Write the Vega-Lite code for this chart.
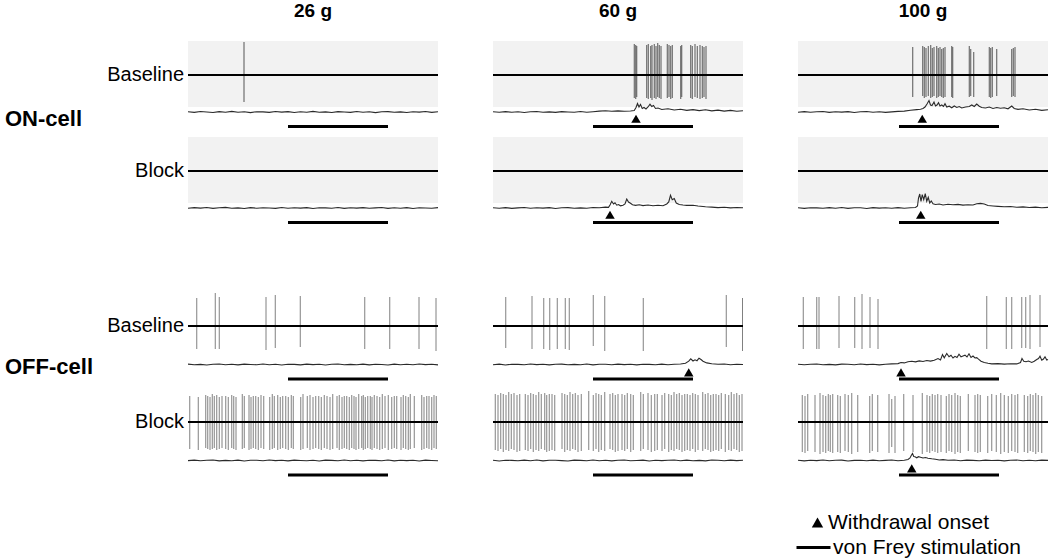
{
"$schema": "https://vega.github.io/schema/vega-lite/v6.json",
"background": "white",
"padding": {"left": 5, "top": 2, "right": 0, "bottom": 0},
"config": {"view": {"stroke": null}, "axis": {"disable": true}, "font": "Liberation Sans"},
"datasets": {
"on": [
{"r":"Baseline","c":26,"k":"h"},{"r":"Baseline","c":60,"k":"h"},{"r":"Baseline","c":100,"k":"h"},
{"r":"Baseline","c":26,"k":"b","t":4,"t2":8},{"r":"Baseline","c":60,"k":"b","t":4,"t2":8},{"r":"Baseline","c":100,"k":"b","t":4.04,"t2":8.04},
{"r":"Baseline","c":60,"k":"o","t":5.72},{"r":"Baseline","c":100,"k":"o","t":4.97},
{"r":"Baseline","c":26,"k":"s","t":2.24,"hi":33,"lo":-27},
{"r":"Baseline","c":60,"k":"s","t":5.65,"hi":31,"lo":-23},{"r":"Baseline","c":60,"k":"s","t":5.71,"hi":30,"lo":-24},{"r":"Baseline","c":60,"k":"s","t":5.75,"hi":29,"lo":-22},{"r":"Baseline","c":60,"k":"s","t":6.15,"hi":30,"lo":-23},{"r":"Baseline","c":60,"k":"s","t":6.21,"hi":31,"lo":-24},{"r":"Baseline","c":60,"k":"s","t":6.31,"hi":29,"lo":-23},{"r":"Baseline","c":60,"k":"s","t":6.36,"hi":30,"lo":-25},{"r":"Baseline","c":60,"k":"s","t":6.45,"hi":31,"lo":-23},{"r":"Baseline","c":60,"k":"s","t":6.52,"hi":29,"lo":-24},{"r":"Baseline","c":60,"k":"s","t":6.59,"hi":32,"lo":-22},{"r":"Baseline","c":60,"k":"s","t":6.65,"hi":30,"lo":-23},{"r":"Baseline","c":60,"k":"s","t":6.72,"hi":29,"lo":-24},{"r":"Baseline","c":60,"k":"s","t":6.97,"hi":31,"lo":-23},{"r":"Baseline","c":60,"k":"s","t":7.04,"hi":30,"lo":-22},{"r":"Baseline","c":60,"k":"s","t":7.11,"hi":29,"lo":-24},{"r":"Baseline","c":60,"k":"s","t":7.17,"hi":30,"lo":-23},{"r":"Baseline","c":60,"k":"s","t":7.51,"hi":29,"lo":-24},{"r":"Baseline","c":60,"k":"s","t":7.55,"hi":30,"lo":-22},{"r":"Baseline","c":60,"k":"s","t":7.91,"hi":30,"lo":-23},{"r":"Baseline","c":60,"k":"s","t":7.97,"hi":29,"lo":-24},{"r":"Baseline","c":60,"k":"s","t":8.08,"hi":31,"lo":-22},{"r":"Baseline","c":60,"k":"s","t":8.17,"hi":29,"lo":-23},{"r":"Baseline","c":60,"k":"s","t":8.28,"hi":30,"lo":-24},{"r":"Baseline","c":60,"k":"s","t":8.37,"hi":29,"lo":-23},{"r":"Baseline","c":60,"k":"s","t":8.44,"hi":28,"lo":-22},{"r":"Baseline","c":60,"k":"s","t":8.52,"hi":29,"lo":-24},
{"r":"Baseline","c":100,"k":"s","t":4.59,"hi":28,"lo":-22},{"r":"Baseline","c":100,"k":"s","t":4.99,"hi":29,"lo":-21},{"r":"Baseline","c":100,"k":"s","t":5.05,"hi":28,"lo":-23},{"r":"Baseline","c":100,"k":"s","t":5.12,"hi":27,"lo":-22},{"r":"Baseline","c":100,"k":"s","t":5.21,"hi":29,"lo":-21},{"r":"Baseline","c":100,"k":"s","t":5.31,"hi":30,"lo":-23},{"r":"Baseline","c":100,"k":"s","t":5.37,"hi":27,"lo":-22},{"r":"Baseline","c":100,"k":"s","t":5.44,"hi":28,"lo":-21},{"r":"Baseline","c":100,"k":"s","t":5.55,"hi":29,"lo":-23},{"r":"Baseline","c":100,"k":"s","t":5.61,"hi":27,"lo":-22},{"r":"Baseline","c":100,"k":"s","t":5.68,"hi":28,"lo":-21},{"r":"Baseline","c":100,"k":"s","t":5.75,"hi":26,"lo":-22},{"r":"Baseline","c":100,"k":"s","t":5.81,"hi":27,"lo":-23},{"r":"Baseline","c":100,"k":"s","t":5.88,"hi":28,"lo":-22},{"r":"Baseline","c":100,"k":"s","t":6.15,"hi":29,"lo":-22},{"r":"Baseline","c":100,"k":"s","t":6.19,"hi":28,"lo":-23},{"r":"Baseline","c":100,"k":"s","t":6.85,"hi":29,"lo":-22},{"r":"Baseline","c":100,"k":"s","t":6.91,"hi":26,"lo":-21},{"r":"Baseline","c":100,"k":"s","t":7.03,"hi":23,"lo":-22},{"r":"Baseline","c":100,"k":"s","t":7.65,"hi":28,"lo":-22},{"r":"Baseline","c":100,"k":"s","t":7.71,"hi":27,"lo":-23},{"r":"Baseline","c":100,"k":"s","t":7.77,"hi":28,"lo":-22},{"r":"Baseline","c":100,"k":"s","t":7.95,"hi":26,"lo":-21},{"r":"Baseline","c":100,"k":"s","t":8.55,"hi":26,"lo":-22},{"r":"Baseline","c":100,"k":"s","t":8.61,"hi":27,"lo":-21},{"r":"Baseline","c":100,"k":"s","t":8.68,"hi":28,"lo":-22},
{"r":"Baseline","c":26,"k":"e","t":0,"v":0.3},{"r":"Baseline","c":26,"k":"e","t":0.25,"v":-0.4},{"r":"Baseline","c":26,"k":"e","t":0.5,"v":0.5},{"r":"Baseline","c":26,"k":"e","t":0.75,"v":0},{"r":"Baseline","c":26,"k":"e","t":1,"v":-0.5},{"r":"Baseline","c":26,"k":"e","t":1.25,"v":0.4},{"r":"Baseline","c":26,"k":"e","t":1.5,"v":-0.2},{"r":"Baseline","c":26,"k":"e","t":1.75,"v":0.6},{"r":"Baseline","c":26,"k":"e","t":2,"v":-0.3},{"r":"Baseline","c":26,"k":"e","t":2.25,"v":0.2},{"r":"Baseline","c":26,"k":"e","t":2.5,"v":-0.6},{"r":"Baseline","c":26,"k":"e","t":2.75,"v":0.3},{"r":"Baseline","c":26,"k":"e","t":3,"v":0.1},{"r":"Baseline","c":26,"k":"e","t":3.25,"v":-0.4},{"r":"Baseline","c":26,"k":"e","t":3.5,"v":0.5},{"r":"Baseline","c":26,"k":"e","t":3.75,"v":-0.1},{"r":"Baseline","c":26,"k":"e","t":4,"v":0.4},{"r":"Baseline","c":26,"k":"e","t":4.25,"v":-0.5},{"r":"Baseline","c":26,"k":"e","t":4.5,"v":0.2},{"r":"Baseline","c":26,"k":"e","t":4.75,"v":-0.3},{"r":"Baseline","c":26,"k":"e","t":5,"v":0.6},{"r":"Baseline","c":26,"k":"e","t":5.25,"v":-0.2},{"r":"Baseline","c":26,"k":"e","t":5.5,"v":0.1},{"r":"Baseline","c":26,"k":"e","t":5.75,"v":-0.5},{"r":"Baseline","c":26,"k":"e","t":6,"v":0.4},{"r":"Baseline","c":26,"k":"e","t":6.25,"v":0},{"r":"Baseline","c":26,"k":"e","t":6.5,"v":-0.4},{"r":"Baseline","c":26,"k":"e","t":6.75,"v":0.5},{"r":"Baseline","c":26,"k":"e","t":7,"v":-0.2},{"r":"Baseline","c":26,"k":"e","t":7.25,"v":0.3},{"r":"Baseline","c":26,"k":"e","t":7.5,"v":-0.6},{"r":"Baseline","c":26,"k":"e","t":7.75,"v":0.2},{"r":"Baseline","c":26,"k":"e","t":8,"v":0.4},{"r":"Baseline","c":26,"k":"e","t":8.25,"v":-0.3},{"r":"Baseline","c":26,"k":"e","t":8.5,"v":0.1},{"r":"Baseline","c":26,"k":"e","t":8.75,"v":-0.5},{"r":"Baseline","c":26,"k":"e","t":9,"v":0.3},{"r":"Baseline","c":26,"k":"e","t":9.25,"v":-0.1},{"r":"Baseline","c":26,"k":"e","t":9.5,"v":0.5},{"r":"Baseline","c":26,"k":"e","t":9.75,"v":-0.4},{"r":"Baseline","c":26,"k":"e","t":10,"v":0.2},
{"r":"Baseline","c":60,"k":"e","t":0,"v":0.2},{"r":"Baseline","c":60,"k":"e","t":0.25,"v":-0.3},{"r":"Baseline","c":60,"k":"e","t":0.5,"v":0.4},{"r":"Baseline","c":60,"k":"e","t":0.75,"v":-0.2},{"r":"Baseline","c":60,"k":"e","t":1,"v":0.3},{"r":"Baseline","c":60,"k":"e","t":1.25,"v":-0.5},{"r":"Baseline","c":60,"k":"e","t":1.5,"v":0.2},{"r":"Baseline","c":60,"k":"e","t":1.75,"v":0.5},{"r":"Baseline","c":60,"k":"e","t":2,"v":-0.3},{"r":"Baseline","c":60,"k":"e","t":2.25,"v":0.1},{"r":"Baseline","c":60,"k":"e","t":2.5,"v":-0.4},{"r":"Baseline","c":60,"k":"e","t":2.75,"v":0.4},{"r":"Baseline","c":60,"k":"e","t":3,"v":0},{"r":"Baseline","c":60,"k":"e","t":3.25,"v":-0.3},{"r":"Baseline","c":60,"k":"e","t":3.5,"v":0.5},{"r":"Baseline","c":60,"k":"e","t":3.75,"v":-0.2},{"r":"Baseline","c":60,"k":"e","t":4,"v":0.3},{"r":"Baseline","c":60,"k":"e","t":4.25,"v":0.9},{"r":"Baseline","c":60,"k":"e","t":4.5,"v":1.3},{"r":"Baseline","c":60,"k":"e","t":4.75,"v":0.8},{"r":"Baseline","c":60,"k":"e","t":5,"v":1.1},{"r":"Baseline","c":60,"k":"e","t":5.25,"v":0.7},{"r":"Baseline","c":60,"k":"e","t":5.5,"v":1.0},{"r":"Baseline","c":60,"k":"e","t":5.65,"v":1.4},{"r":"Baseline","c":60,"k":"e","t":5.72,"v":4.5},{"r":"Baseline","c":60,"k":"e","t":5.78,"v":8.5},{"r":"Baseline","c":60,"k":"e","t":5.84,"v":5},{"r":"Baseline","c":60,"k":"e","t":5.9,"v":7.5},{"r":"Baseline","c":60,"k":"e","t":5.97,"v":3.5},{"r":"Baseline","c":60,"k":"e","t":6.04,"v":4.5},{"r":"Baseline","c":60,"k":"e","t":6.12,"v":3},{"r":"Baseline","c":60,"k":"e","t":6.2,"v":5},{"r":"Baseline","c":60,"k":"e","t":6.28,"v":7.8},{"r":"Baseline","c":60,"k":"e","t":6.35,"v":5.5},{"r":"Baseline","c":60,"k":"e","t":6.42,"v":6.5},{"r":"Baseline","c":60,"k":"e","t":6.5,"v":3.5},{"r":"Baseline","c":60,"k":"e","t":6.6,"v":4},{"r":"Baseline","c":60,"k":"e","t":6.75,"v":2.5},{"r":"Baseline","c":60,"k":"e","t":7,"v":3.2},{"r":"Baseline","c":60,"k":"e","t":7.25,"v":2},{"r":"Baseline","c":60,"k":"e","t":7.5,"v":2.8},{"r":"Baseline","c":60,"k":"e","t":7.75,"v":1.6},{"r":"Baseline","c":60,"k":"e","t":8,"v":2.4},{"r":"Baseline","c":60,"k":"e","t":8.25,"v":1.4},{"r":"Baseline","c":60,"k":"e","t":8.5,"v":2.2},{"r":"Baseline","c":60,"k":"e","t":8.75,"v":1.1},{"r":"Baseline","c":60,"k":"e","t":9,"v":1.9},{"r":"Baseline","c":60,"k":"e","t":9.25,"v":0.9},{"r":"Baseline","c":60,"k":"e","t":9.5,"v":1.6},{"r":"Baseline","c":60,"k":"e","t":9.75,"v":0.7},{"r":"Baseline","c":60,"k":"e","t":10,"v":1.3},
{"r":"Baseline","c":100,"k":"e","t":0,"v":-0.2},{"r":"Baseline","c":100,"k":"e","t":0.25,"v":0.4},{"r":"Baseline","c":100,"k":"e","t":0.5,"v":-0.3},{"r":"Baseline","c":100,"k":"e","t":0.75,"v":0.2},{"r":"Baseline","c":100,"k":"e","t":1,"v":0.5},{"r":"Baseline","c":100,"k":"e","t":1.25,"v":-0.4},{"r":"Baseline","c":100,"k":"e","t":1.5,"v":0.3},{"r":"Baseline","c":100,"k":"e","t":1.75,"v":-0.1},{"r":"Baseline","c":100,"k":"e","t":2,"v":0.4},{"r":"Baseline","c":100,"k":"e","t":2.25,"v":-0.5},{"r":"Baseline","c":100,"k":"e","t":2.5,"v":0.2},{"r":"Baseline","c":100,"k":"e","t":2.75,"v":0.5},{"r":"Baseline","c":100,"k":"e","t":3,"v":-0.2},{"r":"Baseline","c":100,"k":"e","t":3.25,"v":0.3},{"r":"Baseline","c":100,"k":"e","t":3.5,"v":-0.4},{"r":"Baseline","c":100,"k":"e","t":3.75,"v":0.1},{"r":"Baseline","c":100,"k":"e","t":4,"v":0.6},{"r":"Baseline","c":100,"k":"e","t":4.25,"v":0.9},{"r":"Baseline","c":100,"k":"e","t":4.5,"v":1.8},{"r":"Baseline","c":100,"k":"e","t":4.75,"v":2.4},{"r":"Baseline","c":100,"k":"e","t":4.9,"v":2.8},{"r":"Baseline","c":100,"k":"e","t":5.0,"v":3.5},{"r":"Baseline","c":100,"k":"e","t":5.08,"v":5},{"r":"Baseline","c":100,"k":"e","t":5.16,"v":8},{"r":"Baseline","c":100,"k":"e","t":5.24,"v":11.5},{"r":"Baseline","c":100,"k":"e","t":5.3,"v":7},{"r":"Baseline","c":100,"k":"e","t":5.36,"v":6.5},{"r":"Baseline","c":100,"k":"e","t":5.44,"v":10},{"r":"Baseline","c":100,"k":"e","t":5.5,"v":6},{"r":"Baseline","c":100,"k":"e","t":5.56,"v":7},{"r":"Baseline","c":100,"k":"e","t":5.62,"v":9.3},{"r":"Baseline","c":100,"k":"e","t":5.68,"v":6},{"r":"Baseline","c":100,"k":"e","t":5.75,"v":7},{"r":"Baseline","c":100,"k":"e","t":5.82,"v":5.5},{"r":"Baseline","c":100,"k":"e","t":5.88,"v":8.3},{"r":"Baseline","c":100,"k":"e","t":5.95,"v":5},{"r":"Baseline","c":100,"k":"e","t":6.05,"v":5.8},{"r":"Baseline","c":100,"k":"e","t":6.15,"v":4.2},{"r":"Baseline","c":100,"k":"e","t":6.25,"v":6},{"r":"Baseline","c":100,"k":"e","t":6.35,"v":4.5},{"r":"Baseline","c":100,"k":"e","t":6.45,"v":5.5},{"r":"Baseline","c":100,"k":"e","t":6.55,"v":4},{"r":"Baseline","c":100,"k":"e","t":6.7,"v":5},{"r":"Baseline","c":100,"k":"e","t":6.85,"v":5.5},{"r":"Baseline","c":100,"k":"e","t":6.95,"v":7},{"r":"Baseline","c":100,"k":"e","t":7.05,"v":5.5},{"r":"Baseline","c":100,"k":"e","t":7.15,"v":8},{"r":"Baseline","c":100,"k":"e","t":7.25,"v":5.8},{"r":"Baseline","c":100,"k":"e","t":7.35,"v":4.5},{"r":"Baseline","c":100,"k":"e","t":7.5,"v":4},{"r":"Baseline","c":100,"k":"e","t":7.65,"v":5},{"r":"Baseline","c":100,"k":"e","t":7.8,"v":3.5},{"r":"Baseline","c":100,"k":"e","t":7.95,"v":4.5},{"r":"Baseline","c":100,"k":"e","t":8.1,"v":3.8},{"r":"Baseline","c":100,"k":"e","t":8.25,"v":4.3},{"r":"Baseline","c":100,"k":"e","t":8.4,"v":3.2},{"r":"Baseline","c":100,"k":"e","t":8.55,"v":6},{"r":"Baseline","c":100,"k":"e","t":8.65,"v":3.5},{"r":"Baseline","c":100,"k":"e","t":8.8,"v":2.6},{"r":"Baseline","c":100,"k":"e","t":9,"v":3.2},{"r":"Baseline","c":100,"k":"e","t":9.25,"v":2},{"r":"Baseline","c":100,"k":"e","t":9.5,"v":2.7},{"r":"Baseline","c":100,"k":"e","t":9.75,"v":1.6},{"r":"Baseline","c":100,"k":"e","t":10,"v":2.2},
{"r":"Block","c":26,"k":"h"},{"r":"Block","c":60,"k":"h"},{"r":"Block","c":100,"k":"h"},
{"r":"Block","c":26,"k":"b","t":4,"t2":8},{"r":"Block","c":60,"k":"b","t":4,"t2":8},{"r":"Block","c":100,"k":"b","t":4.04,"t2":8.04},
{"r":"Block","c":60,"k":"o","t":4.68},{"r":"Block","c":100,"k":"o","t":4.91},
{"r":"Block","c":26,"k":"e","t":0,"v":-0.3},{"r":"Block","c":26,"k":"e","t":0.25,"v":0.4},{"r":"Block","c":26,"k":"e","t":0.5,"v":-0.1},{"r":"Block","c":26,"k":"e","t":0.75,"v":0.5},{"r":"Block","c":26,"k":"e","t":1,"v":-0.4},{"r":"Block","c":26,"k":"e","t":1.25,"v":0.2},{"r":"Block","c":26,"k":"e","t":1.5,"v":0.6},{"r":"Block","c":26,"k":"e","t":1.75,"v":-0.3},{"r":"Block","c":26,"k":"e","t":2,"v":0.1},{"r":"Block","c":26,"k":"e","t":2.25,"v":-0.5},{"r":"Block","c":26,"k":"e","t":2.5,"v":0.4},{"r":"Block","c":26,"k":"e","t":2.75,"v":-0.2},{"r":"Block","c":26,"k":"e","t":3,"v":0.3},{"r":"Block","c":26,"k":"e","t":3.25,"v":0},{"r":"Block","c":26,"k":"e","t":3.5,"v":-0.4},{"r":"Block","c":26,"k":"e","t":3.75,"v":0.5},{"r":"Block","c":26,"k":"e","t":4,"v":-0.3},{"r":"Block","c":26,"k":"e","t":4.25,"v":0.2},{"r":"Block","c":26,"k":"e","t":4.5,"v":-0.1},{"r":"Block","c":26,"k":"e","t":4.75,"v":0.4},{"r":"Block","c":26,"k":"e","t":5,"v":-0.5},{"r":"Block","c":26,"k":"e","t":5.25,"v":0.3},{"r":"Block","c":26,"k":"e","t":5.5,"v":0.1},{"r":"Block","c":26,"k":"e","t":5.75,"v":-0.2},{"r":"Block","c":26,"k":"e","t":6,"v":0.5},{"r":"Block","c":26,"k":"e","t":6.25,"v":-0.4},{"r":"Block","c":26,"k":"e","t":6.5,"v":0.2},{"r":"Block","c":26,"k":"e","t":6.75,"v":-0.1},{"r":"Block","c":26,"k":"e","t":7,"v":0.4},{"r":"Block","c":26,"k":"e","t":7.25,"v":-0.3},{"r":"Block","c":26,"k":"e","t":7.5,"v":0.1},{"r":"Block","c":26,"k":"e","t":7.75,"v":0.5},{"r":"Block","c":26,"k":"e","t":8,"v":-0.4},{"r":"Block","c":26,"k":"e","t":8.25,"v":0.2},{"r":"Block","c":26,"k":"e","t":8.5,"v":-0.2},{"r":"Block","c":26,"k":"e","t":8.75,"v":0.4},{"r":"Block","c":26,"k":"e","t":9,"v":-0.5},{"r":"Block","c":26,"k":"e","t":9.25,"v":0.3},{"r":"Block","c":26,"k":"e","t":9.5,"v":0},{"r":"Block","c":26,"k":"e","t":9.75,"v":-0.3},{"r":"Block","c":26,"k":"e","t":10,"v":0.4},
{"r":"Block","c":60,"k":"e","t":0,"v":0.3},{"r":"Block","c":60,"k":"e","t":0.25,"v":-0.2},{"r":"Block","c":60,"k":"e","t":0.5,"v":0.4},{"r":"Block","c":60,"k":"e","t":0.75,"v":-0.4},{"r":"Block","c":60,"k":"e","t":1,"v":0.1},{"r":"Block","c":60,"k":"e","t":1.25,"v":0.5},{"r":"Block","c":60,"k":"e","t":1.5,"v":-0.3},{"r":"Block","c":60,"k":"e","t":1.75,"v":0.2},{"r":"Block","c":60,"k":"e","t":2,"v":-0.1},{"r":"Block","c":60,"k":"e","t":2.25,"v":0.4},{"r":"Block","c":60,"k":"e","t":2.5,"v":-0.5},{"r":"Block","c":60,"k":"e","t":2.75,"v":0.2},{"r":"Block","c":60,"k":"e","t":3,"v":0.4},{"r":"Block","c":60,"k":"e","t":3.25,"v":-0.3},{"r":"Block","c":60,"k":"e","t":3.5,"v":0.1},{"r":"Block","c":60,"k":"e","t":3.75,"v":-0.2},{"r":"Block","c":60,"k":"e","t":4,"v":0.5},{"r":"Block","c":60,"k":"e","t":4.25,"v":0.3},{"r":"Block","c":60,"k":"e","t":4.5,"v":0.9},{"r":"Block","c":60,"k":"e","t":4.62,"v":0.6},{"r":"Block","c":60,"k":"e","t":4.68,"v":3},{"r":"Block","c":60,"k":"e","t":4.75,"v":6.7},{"r":"Block","c":60,"k":"e","t":4.82,"v":4},{"r":"Block","c":60,"k":"e","t":4.88,"v":5.2},{"r":"Block","c":60,"k":"e","t":4.95,"v":2.8},{"r":"Block","c":60,"k":"e","t":5.02,"v":3.5},{"r":"Block","c":60,"k":"e","t":5.1,"v":2.2},{"r":"Block","c":60,"k":"e","t":5.2,"v":2.8},{"r":"Block","c":60,"k":"e","t":5.28,"v":4},{"r":"Block","c":60,"k":"e","t":5.35,"v":9},{"r":"Block","c":60,"k":"e","t":5.42,"v":6},{"r":"Block","c":60,"k":"e","t":5.5,"v":4.7},{"r":"Block","c":60,"k":"e","t":5.58,"v":3.2},{"r":"Block","c":60,"k":"e","t":5.7,"v":2.6},{"r":"Block","c":60,"k":"e","t":5.85,"v":3.3},{"r":"Block","c":60,"k":"e","t":6,"v":2.4},{"r":"Block","c":60,"k":"e","t":6.2,"v":3},{"r":"Block","c":60,"k":"e","t":6.4,"v":2.2},{"r":"Block","c":60,"k":"e","t":6.6,"v":2.8},{"r":"Block","c":60,"k":"e","t":6.8,"v":2.3},{"r":"Block","c":60,"k":"e","t":6.95,"v":4},{"r":"Block","c":60,"k":"e","t":7.03,"v":6},{"r":"Block","c":60,"k":"e","t":7.1,"v":12.7},{"r":"Block","c":60,"k":"e","t":7.17,"v":8.3},{"r":"Block","c":60,"k":"e","t":7.25,"v":9.5},{"r":"Block","c":60,"k":"e","t":7.33,"v":5},{"r":"Block","c":60,"k":"e","t":7.45,"v":3.5},{"r":"Block","c":60,"k":"e","t":7.6,"v":3},{"r":"Block","c":60,"k":"e","t":7.75,"v":2.6},{"r":"Block","c":60,"k":"e","t":8,"v":2.7},{"r":"Block","c":60,"k":"e","t":8.2,"v":2},{"r":"Block","c":60,"k":"e","t":8.5,"v":1.3},{"r":"Block","c":60,"k":"e","t":8.75,"v":0.9},{"r":"Block","c":60,"k":"e","t":9,"v":0.4},{"r":"Block","c":60,"k":"e","t":9.25,"v":0.7},{"r":"Block","c":60,"k":"e","t":9.5,"v":0.1},{"r":"Block","c":60,"k":"e","t":9.75,"v":0.5},{"r":"Block","c":60,"k":"e","t":10,"v":0.2},
{"r":"Block","c":100,"k":"e","t":0,"v":0.2},{"r":"Block","c":100,"k":"e","t":0.25,"v":-0.4},{"r":"Block","c":100,"k":"e","t":0.5,"v":0.3},{"r":"Block","c":100,"k":"e","t":0.75,"v":0.1},{"r":"Block","c":100,"k":"e","t":1,"v":-0.3},{"r":"Block","c":100,"k":"e","t":1.25,"v":0.4},{"r":"Block","c":100,"k":"e","t":1.5,"v":-0.2},{"r":"Block","c":100,"k":"e","t":1.75,"v":0.5},{"r":"Block","c":100,"k":"e","t":2,"v":-0.4},{"r":"Block","c":100,"k":"e","t":2.25,"v":0.2},{"r":"Block","c":100,"k":"e","t":2.5,"v":0.3},{"r":"Block","c":100,"k":"e","t":2.75,"v":-0.5},{"r":"Block","c":100,"k":"e","t":3,"v":0.4},{"r":"Block","c":100,"k":"e","t":3.25,"v":-0.1},{"r":"Block","c":100,"k":"e","t":3.5,"v":0.2},{"r":"Block","c":100,"k":"e","t":3.75,"v":-0.3},{"r":"Block","c":100,"k":"e","t":4,"v":0.4},{"r":"Block","c":100,"k":"e","t":4.25,"v":-0.2},{"r":"Block","c":100,"k":"e","t":4.5,"v":0.3},{"r":"Block","c":100,"k":"e","t":4.7,"v":0.5},{"r":"Block","c":100,"k":"e","t":4.78,"v":2},{"r":"Block","c":100,"k":"e","t":4.82,"v":10},{"r":"Block","c":100,"k":"e","t":4.87,"v":14},{"r":"Block","c":100,"k":"e","t":4.92,"v":6.7},{"r":"Block","c":100,"k":"e","t":4.97,"v":13.3},{"r":"Block","c":100,"k":"e","t":5.03,"v":8.3},{"r":"Block","c":100,"k":"e","t":5.09,"v":14.3},{"r":"Block","c":100,"k":"e","t":5.15,"v":6.7},{"r":"Block","c":100,"k":"e","t":5.21,"v":10.7},{"r":"Block","c":100,"k":"e","t":5.27,"v":5},{"r":"Block","c":100,"k":"e","t":5.33,"v":7},{"r":"Block","c":100,"k":"e","t":5.4,"v":4.2},{"r":"Block","c":100,"k":"e","t":5.5,"v":3.5},{"r":"Block","c":100,"k":"e","t":5.65,"v":4},{"r":"Block","c":100,"k":"e","t":5.8,"v":3},{"r":"Block","c":100,"k":"e","t":6,"v":3.8},{"r":"Block","c":100,"k":"e","t":6.2,"v":3.2},{"r":"Block","c":100,"k":"e","t":6.4,"v":3.6},{"r":"Block","c":100,"k":"e","t":6.6,"v":2.9},{"r":"Block","c":100,"k":"e","t":6.8,"v":3.3},{"r":"Block","c":100,"k":"e","t":7,"v":3},{"r":"Block","c":100,"k":"e","t":7.15,"v":4.3},{"r":"Block","c":100,"k":"e","t":7.3,"v":4.6},{"r":"Block","c":100,"k":"e","t":7.45,"v":4},{"r":"Block","c":100,"k":"e","t":7.6,"v":2.5},{"r":"Block","c":100,"k":"e","t":7.8,"v":2},{"r":"Block","c":100,"k":"e","t":8,"v":1.6},{"r":"Block","c":100,"k":"e","t":8.25,"v":1.2},{"r":"Block","c":100,"k":"e","t":8.5,"v":1.5},{"r":"Block","c":100,"k":"e","t":8.75,"v":0.8},{"r":"Block","c":100,"k":"e","t":9,"v":1.1},{"r":"Block","c":100,"k":"e","t":9.25,"v":0.5},{"r":"Block","c":100,"k":"e","t":9.5,"v":0.9},{"r":"Block","c":100,"k":"e","t":9.75,"v":0.3},{"r":"Block","c":100,"k":"e","t":10,"v":0.6}
],
"off": [
{"r":"Baseline","c":26,"k":"h"},{"r":"Baseline","c":60,"k":"h"},{"r":"Baseline","c":100,"k":"h"},
{"r":"Baseline","c":26,"k":"b","t":4,"t2":8},{"r":"Baseline","c":60,"k":"b","t":4,"t2":8},{"r":"Baseline","c":100,"k":"b","t":4.04,"t2":8.04},
{"r":"Baseline","c":60,"k":"o","t":7.83},{"r":"Baseline","c":100,"k":"o","t":4.12},
{"r":"Baseline","c":26,"k":"s","t":0.35,"hi":28,"lo":-23},{"r":"Baseline","c":26,"k":"s","t":1.09,"hi":33,"lo":-23},{"r":"Baseline","c":26,"k":"s","t":1.25,"hi":29,"lo":-23},{"r":"Baseline","c":26,"k":"s","t":3.12,"hi":29,"lo":-24},{"r":"Baseline","c":26,"k":"s","t":3.49,"hi":31,"lo":-22},{"r":"Baseline","c":26,"k":"s","t":4.49,"hi":30,"lo":-21},{"r":"Baseline","c":26,"k":"s","t":7.07,"hi":29,"lo":-23},{"r":"Baseline","c":26,"k":"s","t":8.07,"hi":29,"lo":-23},{"r":"Baseline","c":26,"k":"s","t":9.24,"hi":29,"lo":-23},{"r":"Baseline","c":26,"k":"s","t":9.92,"hi":28,"lo":-25},
{"r":"Baseline","c":60,"k":"s","t":0.51,"hi":29,"lo":-22},{"r":"Baseline","c":60,"k":"s","t":1.56,"hi":30,"lo":-23},{"r":"Baseline","c":60,"k":"s","t":2.03,"hi":28,"lo":-23},{"r":"Baseline","c":60,"k":"s","t":2.27,"hi":28,"lo":-24},{"r":"Baseline","c":60,"k":"s","t":2.57,"hi":28,"lo":-23},{"r":"Baseline","c":60,"k":"s","t":2.89,"hi":28,"lo":-23},{"r":"Baseline","c":60,"k":"s","t":3.05,"hi":28,"lo":-24},{"r":"Baseline","c":60,"k":"s","t":4.01,"hi":31,"lo":-20},{"r":"Baseline","c":60,"k":"s","t":4.47,"hi":30,"lo":-25},{"r":"Baseline","c":60,"k":"s","t":6.01,"hi":28,"lo":-25},{"r":"Baseline","c":60,"k":"s","t":9.33,"hi":31,"lo":-21},{"r":"Baseline","c":60,"k":"s","t":9.98,"hi":28,"lo":-25},
{"r":"Baseline","c":100,"k":"s","t":0.21,"hi":29,"lo":-23},{"r":"Baseline","c":100,"k":"s","t":0.75,"hi":29,"lo":-23},{"r":"Baseline","c":100,"k":"s","t":0.84,"hi":29,"lo":-23},{"r":"Baseline","c":100,"k":"s","t":1.64,"hi":30,"lo":-22},{"r":"Baseline","c":100,"k":"s","t":2.27,"hi":29,"lo":-22},{"r":"Baseline","c":100,"k":"s","t":2.56,"hi":32,"lo":-23},{"r":"Baseline","c":100,"k":"s","t":2.88,"hi":29,"lo":-22},{"r":"Baseline","c":100,"k":"s","t":3.2,"hi":27,"lo":-23},{"r":"Baseline","c":100,"k":"s","t":7.55,"hi":30,"lo":-23},{"r":"Baseline","c":100,"k":"s","t":8.33,"hi":29,"lo":-23},{"r":"Baseline","c":100,"k":"s","t":8.55,"hi":29,"lo":-23},{"r":"Baseline","c":100,"k":"s","t":8.95,"hi":29,"lo":-22},{"r":"Baseline","c":100,"k":"s","t":9.11,"hi":29,"lo":-22},{"r":"Baseline","c":100,"k":"s","t":9.28,"hi":31,"lo":-23},{"r":"Baseline","c":100,"k":"s","t":9.68,"hi":31,"lo":-21},
{"r":"Baseline","c":26,"k":"e","t":0,"v":0.4},{"r":"Baseline","c":26,"k":"e","t":0.25,"v":-0.2},{"r":"Baseline","c":26,"k":"e","t":0.5,"v":0.1},{"r":"Baseline","c":26,"k":"e","t":0.75,"v":-0.5},{"r":"Baseline","c":26,"k":"e","t":1,"v":0.3},{"r":"Baseline","c":26,"k":"e","t":1.25,"v":0.5},{"r":"Baseline","c":26,"k":"e","t":1.5,"v":-0.3},{"r":"Baseline","c":26,"k":"e","t":1.75,"v":0.2},{"r":"Baseline","c":26,"k":"e","t":2,"v":-0.4},{"r":"Baseline","c":26,"k":"e","t":2.25,"v":0.4},{"r":"Baseline","c":26,"k":"e","t":2.5,"v":0},{"r":"Baseline","c":26,"k":"e","t":2.75,"v":-0.3},{"r":"Baseline","c":26,"k":"e","t":3,"v":0.5},{"r":"Baseline","c":26,"k":"e","t":3.25,"v":-0.2},{"r":"Baseline","c":26,"k":"e","t":3.5,"v":0.2},{"r":"Baseline","c":26,"k":"e","t":3.75,"v":-0.5},{"r":"Baseline","c":26,"k":"e","t":4,"v":0.3},{"r":"Baseline","c":26,"k":"e","t":4.25,"v":0.1},{"r":"Baseline","c":26,"k":"e","t":4.5,"v":-0.4},{"r":"Baseline","c":26,"k":"e","t":4.75,"v":0.4},{"r":"Baseline","c":26,"k":"e","t":5,"v":-0.1},{"r":"Baseline","c":26,"k":"e","t":5.25,"v":0.3},{"r":"Baseline","c":26,"k":"e","t":5.5,"v":-0.5},{"r":"Baseline","c":26,"k":"e","t":5.75,"v":0.2},{"r":"Baseline","c":26,"k":"e","t":6,"v":0.5},{"r":"Baseline","c":26,"k":"e","t":6.25,"v":-0.3},{"r":"Baseline","c":26,"k":"e","t":6.5,"v":0.1},{"r":"Baseline","c":26,"k":"e","t":6.75,"v":-0.2},{"r":"Baseline","c":26,"k":"e","t":7,"v":0.4},{"r":"Baseline","c":26,"k":"e","t":7.25,"v":-0.4},{"r":"Baseline","c":26,"k":"e","t":7.5,"v":0.3},{"r":"Baseline","c":26,"k":"e","t":7.75,"v":0},{"r":"Baseline","c":26,"k":"e","t":8,"v":-0.5},{"r":"Baseline","c":26,"k":"e","t":8.25,"v":0.4},{"r":"Baseline","c":26,"k":"e","t":8.5,"v":-0.2},{"r":"Baseline","c":26,"k":"e","t":8.75,"v":0.2},{"r":"Baseline","c":26,"k":"e","t":9,"v":-0.3},{"r":"Baseline","c":26,"k":"e","t":9.25,"v":0.5},{"r":"Baseline","c":26,"k":"e","t":9.5,"v":-0.1},{"r":"Baseline","c":26,"k":"e","t":9.75,"v":0.3},{"r":"Baseline","c":26,"k":"e","t":10,"v":-0.4},
{"r":"Baseline","c":60,"k":"e","t":0,"v":-0.2},{"r":"Baseline","c":60,"k":"e","t":0.25,"v":0.4},{"r":"Baseline","c":60,"k":"e","t":0.5,"v":-0.5},{"r":"Baseline","c":60,"k":"e","t":0.75,"v":0.3},{"r":"Baseline","c":60,"k":"e","t":1,"v":0.1},{"r":"Baseline","c":60,"k":"e","t":1.25,"v":-0.3},{"r":"Baseline","c":60,"k":"e","t":1.5,"v":0.5},{"r":"Baseline","c":60,"k":"e","t":1.75,"v":-0.1},{"r":"Baseline","c":60,"k":"e","t":2,"v":0.3},{"r":"Baseline","c":60,"k":"e","t":2.25,"v":-0.4},{"r":"Baseline","c":60,"k":"e","t":2.5,"v":0.2},{"r":"Baseline","c":60,"k":"e","t":2.75,"v":0.4},{"r":"Baseline","c":60,"k":"e","t":3,"v":-0.3},{"r":"Baseline","c":60,"k":"e","t":3.25,"v":0.1},{"r":"Baseline","c":60,"k":"e","t":3.5,"v":-0.2},{"r":"Baseline","c":60,"k":"e","t":3.75,"v":0.5},{"r":"Baseline","c":60,"k":"e","t":4,"v":-0.4},{"r":"Baseline","c":60,"k":"e","t":4.25,"v":0.2},{"r":"Baseline","c":60,"k":"e","t":4.5,"v":0.3},{"r":"Baseline","c":60,"k":"e","t":4.75,"v":-0.3},{"r":"Baseline","c":60,"k":"e","t":5,"v":0.4},{"r":"Baseline","c":60,"k":"e","t":5.25,"v":-0.1},{"r":"Baseline","c":60,"k":"e","t":5.5,"v":0.2},{"r":"Baseline","c":60,"k":"e","t":5.75,"v":-0.4},{"r":"Baseline","c":60,"k":"e","t":6,"v":0.3},{"r":"Baseline","c":60,"k":"e","t":6.25,"v":0.1},{"r":"Baseline","c":60,"k":"e","t":6.5,"v":-0.3},{"r":"Baseline","c":60,"k":"e","t":6.75,"v":0.4},{"r":"Baseline","c":60,"k":"e","t":7,"v":-0.2},{"r":"Baseline","c":60,"k":"e","t":7.25,"v":0.2},{"r":"Baseline","c":60,"k":"e","t":7.5,"v":0.5},{"r":"Baseline","c":60,"k":"e","t":7.7,"v":1.2},{"r":"Baseline","c":60,"k":"e","t":7.83,"v":3.3},{"r":"Baseline","c":60,"k":"e","t":7.91,"v":5.7},{"r":"Baseline","c":60,"k":"e","t":8.0,"v":3.5},{"r":"Baseline","c":60,"k":"e","t":8.08,"v":4.7},{"r":"Baseline","c":60,"k":"e","t":8.16,"v":3.8},{"r":"Baseline","c":60,"k":"e","t":8.24,"v":6.3},{"r":"Baseline","c":60,"k":"e","t":8.32,"v":5},{"r":"Baseline","c":60,"k":"e","t":8.4,"v":3.3},{"r":"Baseline","c":60,"k":"e","t":8.55,"v":1.6},{"r":"Baseline","c":60,"k":"e","t":8.75,"v":0.8},{"r":"Baseline","c":60,"k":"e","t":9,"v":0.2},{"r":"Baseline","c":60,"k":"e","t":9.25,"v":0.5},{"r":"Baseline","c":60,"k":"e","t":9.5,"v":-0.2},{"r":"Baseline","c":60,"k":"e","t":9.75,"v":0.3},{"r":"Baseline","c":60,"k":"e","t":10,"v":0},
{"r":"Baseline","c":100,"k":"e","t":0,"v":0.3},{"r":"Baseline","c":100,"k":"e","t":0.25,"v":-0.3},{"r":"Baseline","c":100,"k":"e","t":0.5,"v":0.2},{"r":"Baseline","c":100,"k":"e","t":0.75,"v":0.5},{"r":"Baseline","c":100,"k":"e","t":1,"v":-0.2},{"r":"Baseline","c":100,"k":"e","t":1.25,"v":0.1},{"r":"Baseline","c":100,"k":"e","t":1.5,"v":-0.4},{"r":"Baseline","c":100,"k":"e","t":1.75,"v":0.4},{"r":"Baseline","c":100,"k":"e","t":2,"v":0.2},{"r":"Baseline","c":100,"k":"e","t":2.25,"v":-0.3},{"r":"Baseline","c":100,"k":"e","t":2.5,"v":0.5},{"r":"Baseline","c":100,"k":"e","t":2.75,"v":-0.1},{"r":"Baseline","c":100,"k":"e","t":3,"v":0.3},{"r":"Baseline","c":100,"k":"e","t":3.25,"v":-0.4},{"r":"Baseline","c":100,"k":"e","t":3.5,"v":0.2},{"r":"Baseline","c":100,"k":"e","t":3.75,"v":0.6},{"r":"Baseline","c":100,"k":"e","t":4,"v":0.9},{"r":"Baseline","c":100,"k":"e","t":4.12,"v":2},{"r":"Baseline","c":100,"k":"e","t":4.25,"v":1.6},{"r":"Baseline","c":100,"k":"e","t":4.4,"v":2.8},{"r":"Baseline","c":100,"k":"e","t":4.55,"v":3.2},{"r":"Baseline","c":100,"k":"e","t":4.7,"v":2.6},{"r":"Baseline","c":100,"k":"e","t":4.85,"v":3.6},{"r":"Baseline","c":100,"k":"e","t":5,"v":3},{"r":"Baseline","c":100,"k":"e","t":5.15,"v":4},{"r":"Baseline","c":100,"k":"e","t":5.3,"v":3.4},{"r":"Baseline","c":100,"k":"e","t":5.45,"v":4.3},{"r":"Baseline","c":100,"k":"e","t":5.6,"v":6},{"r":"Baseline","c":100,"k":"e","t":5.7,"v":4.5},{"r":"Baseline","c":100,"k":"e","t":5.78,"v":10},{"r":"Baseline","c":100,"k":"e","t":5.85,"v":6.7},{"r":"Baseline","c":100,"k":"e","t":5.95,"v":11},{"r":"Baseline","c":100,"k":"e","t":6.04,"v":7.7},{"r":"Baseline","c":100,"k":"e","t":6.12,"v":9.3},{"r":"Baseline","c":100,"k":"e","t":6.2,"v":6.5},{"r":"Baseline","c":100,"k":"e","t":6.28,"v":8.2},{"r":"Baseline","c":100,"k":"e","t":6.36,"v":7},{"r":"Baseline","c":100,"k":"e","t":6.44,"v":10.3},{"r":"Baseline","c":100,"k":"e","t":6.52,"v":7.7},{"r":"Baseline","c":100,"k":"e","t":6.6,"v":8.5},{"r":"Baseline","c":100,"k":"e","t":6.68,"v":9.3},{"r":"Baseline","c":100,"k":"e","t":6.76,"v":7.5},{"r":"Baseline","c":100,"k":"e","t":6.84,"v":10.7},{"r":"Baseline","c":100,"k":"e","t":6.92,"v":7},{"r":"Baseline","c":100,"k":"e","t":7.0,"v":8.5},{"r":"Baseline","c":100,"k":"e","t":7.08,"v":6.5},{"r":"Baseline","c":100,"k":"e","t":7.15,"v":6.8},{"r":"Baseline","c":100,"k":"e","t":7.22,"v":5.3},{"r":"Baseline","c":100,"k":"e","t":7.32,"v":3.3},{"r":"Baseline","c":100,"k":"e","t":7.45,"v":2},{"r":"Baseline","c":100,"k":"e","t":7.6,"v":1.2},{"r":"Baseline","c":100,"k":"e","t":7.75,"v":0.6},{"r":"Baseline","c":100,"k":"e","t":8,"v":0.9},{"r":"Baseline","c":100,"k":"e","t":8.25,"v":0.4},{"r":"Baseline","c":100,"k":"e","t":8.5,"v":0.8},{"r":"Baseline","c":100,"k":"e","t":8.75,"v":0.6},{"r":"Baseline","c":100,"k":"e","t":8.9,"v":2},{"r":"Baseline","c":100,"k":"e","t":8.96,"v":6},{"r":"Baseline","c":100,"k":"e","t":9.03,"v":3.3},{"r":"Baseline","c":100,"k":"e","t":9.12,"v":2.8},{"r":"Baseline","c":100,"k":"e","t":9.22,"v":3.5},{"r":"Baseline","c":100,"k":"e","t":9.35,"v":2},{"r":"Baseline","c":100,"k":"e","t":9.45,"v":3.2},{"r":"Baseline","c":100,"k":"e","t":9.55,"v":5},{"r":"Baseline","c":100,"k":"e","t":9.62,"v":6},{"r":"Baseline","c":100,"k":"e","t":9.68,"v":8.3},{"r":"Baseline","c":100,"k":"e","t":9.75,"v":4.3},{"r":"Baseline","c":100,"k":"e","t":9.82,"v":5.5},{"r":"Baseline","c":100,"k":"e","t":9.88,"v":7.7},{"r":"Baseline","c":100,"k":"e","t":9.95,"v":4.5},{"r":"Baseline","c":100,"k":"e","t":10,"v":5},
{"r":"Block","c":26,"k":"h"},{"r":"Block","c":60,"k":"h"},{"r":"Block","c":100,"k":"h"},
{"r":"Block","c":26,"k":"b","t":4,"t2":8},{"r":"Block","c":60,"k":"b","t":4,"t2":8},{"r":"Block","c":100,"k":"b","t":4.04,"t2":8.04},
{"r":"Block","c":100,"k":"o","t":4.55},
{"r":"Block","c":26,"k":"s","t":0.07,"hi":26,"lo":-27},{"r":"Block","c":26,"k":"s","t":0.41,"hi":25,"lo":-28},{"r":"Block","c":26,"k":"s","t":0.71,"hi":27,"lo":-26},{"r":"Block","c":26,"k":"s","t":0.79,"hi":26,"lo":-27},{"r":"Block","c":26,"k":"s","t":0.88,"hi":25,"lo":-28},{"r":"Block","c":26,"k":"s","t":0.97,"hi":28,"lo":-27},{"r":"Block","c":26,"k":"s","t":1.05,"hi":26,"lo":-26},{"r":"Block","c":26,"k":"s","t":1.15,"hi":27,"lo":-28},{"r":"Block","c":26,"k":"s","t":1.25,"hi":25,"lo":-27},{"r":"Block","c":26,"k":"s","t":1.36,"hi":26,"lo":-26},
{"r":"Block","c":26,"k":"s","t":1.51,"hi":26,"lo":-27},{"r":"Block","c":26,"k":"s","t":1.61,"hi":25,"lo":-28},{"r":"Block","c":26,"k":"s","t":1.75,"hi":27,"lo":-26},{"r":"Block","c":26,"k":"s","t":1.83,"hi":26,"lo":-27},{"r":"Block","c":26,"k":"s","t":1.92,"hi":25,"lo":-28},{"r":"Block","c":26,"k":"s","t":2.17,"hi":28,"lo":-27},{"r":"Block","c":26,"k":"s","t":2.25,"hi":26,"lo":-26},{"r":"Block","c":26,"k":"s","t":2.44,"hi":27,"lo":-28},{"r":"Block","c":26,"k":"s","t":2.52,"hi":25,"lo":-27},{"r":"Block","c":26,"k":"s","t":2.61,"hi":26,"lo":-26},
{"r":"Block","c":26,"k":"s","t":2.71,"hi":26,"lo":-27},{"r":"Block","c":26,"k":"s","t":2.81,"hi":25,"lo":-28},{"r":"Block","c":26,"k":"s","t":2.92,"hi":27,"lo":-26},{"r":"Block","c":26,"k":"s","t":3.03,"hi":26,"lo":-27},{"r":"Block","c":26,"k":"s","t":3.27,"hi":25,"lo":-28},{"r":"Block","c":26,"k":"s","t":3.37,"hi":28,"lo":-27},{"r":"Block","c":26,"k":"s","t":3.45,"hi":26,"lo":-26},{"r":"Block","c":26,"k":"s","t":3.59,"hi":27,"lo":-28},{"r":"Block","c":26,"k":"s","t":3.69,"hi":25,"lo":-27},{"r":"Block","c":26,"k":"s","t":3.79,"hi":26,"lo":-26},
{"r":"Block","c":26,"k":"s","t":3.91,"hi":26,"lo":-27},{"r":"Block","c":26,"k":"s","t":4.01,"hi":25,"lo":-28},{"r":"Block","c":26,"k":"s","t":4.13,"hi":27,"lo":-26},{"r":"Block","c":26,"k":"s","t":4.21,"hi":26,"lo":-27},{"r":"Block","c":26,"k":"s","t":4.51,"hi":25,"lo":-28},{"r":"Block","c":26,"k":"s","t":4.6,"hi":28,"lo":-27},{"r":"Block","c":26,"k":"s","t":4.77,"hi":26,"lo":-26},{"r":"Block","c":26,"k":"s","t":4.88,"hi":27,"lo":-28},{"r":"Block","c":26,"k":"s","t":5.0,"hi":25,"lo":-27},{"r":"Block","c":26,"k":"s","t":5.11,"hi":26,"lo":-26},
{"r":"Block","c":26,"k":"s","t":5.23,"hi":26,"lo":-27},{"r":"Block","c":26,"k":"s","t":5.33,"hi":25,"lo":-28},{"r":"Block","c":26,"k":"s","t":5.45,"hi":27,"lo":-26},{"r":"Block","c":26,"k":"s","t":5.56,"hi":26,"lo":-27},{"r":"Block","c":26,"k":"s","t":5.68,"hi":25,"lo":-28},{"r":"Block","c":26,"k":"s","t":5.79,"hi":28,"lo":-27},{"r":"Block","c":26,"k":"s","t":5.96,"hi":26,"lo":-26},{"r":"Block","c":26,"k":"s","t":6.05,"hi":27,"lo":-28},{"r":"Block","c":26,"k":"s","t":6.16,"hi":25,"lo":-27},{"r":"Block","c":26,"k":"s","t":6.25,"hi":26,"lo":-26},
{"r":"Block","c":26,"k":"s","t":6.35,"hi":26,"lo":-27},{"r":"Block","c":26,"k":"s","t":6.45,"hi":25,"lo":-28},{"r":"Block","c":26,"k":"s","t":6.55,"hi":27,"lo":-26},{"r":"Block","c":26,"k":"s","t":6.64,"hi":26,"lo":-27},{"r":"Block","c":26,"k":"s","t":6.72,"hi":25,"lo":-28},{"r":"Block","c":26,"k":"s","t":6.83,"hi":28,"lo":-27},{"r":"Block","c":26,"k":"s","t":6.95,"hi":26,"lo":-26},{"r":"Block","c":26,"k":"s","t":7.01,"hi":27,"lo":-28},{"r":"Block","c":26,"k":"s","t":7.09,"hi":25,"lo":-27},{"r":"Block","c":26,"k":"s","t":7.19,"hi":26,"lo":-26},
{"r":"Block","c":26,"k":"s","t":7.29,"hi":26,"lo":-27},{"r":"Block","c":26,"k":"s","t":7.36,"hi":25,"lo":-28},{"r":"Block","c":26,"k":"s","t":7.45,"hi":27,"lo":-26},{"r":"Block","c":26,"k":"s","t":7.56,"hi":26,"lo":-27},{"r":"Block","c":26,"k":"s","t":7.67,"hi":25,"lo":-28},{"r":"Block","c":26,"k":"s","t":7.77,"hi":28,"lo":-27},{"r":"Block","c":26,"k":"s","t":7.88,"hi":26,"lo":-26},{"r":"Block","c":26,"k":"s","t":8.01,"hi":27,"lo":-28},{"r":"Block","c":26,"k":"s","t":8.15,"hi":25,"lo":-27},{"r":"Block","c":26,"k":"s","t":8.25,"hi":26,"lo":-26},
{"r":"Block","c":26,"k":"s","t":8.35,"hi":26,"lo":-27},{"r":"Block","c":26,"k":"s","t":8.52,"hi":25,"lo":-28},{"r":"Block","c":26,"k":"s","t":8.61,"hi":27,"lo":-26},{"r":"Block","c":26,"k":"s","t":8.71,"hi":26,"lo":-27},{"r":"Block","c":26,"k":"s","t":8.81,"hi":25,"lo":-28},{"r":"Block","c":26,"k":"s","t":8.89,"hi":28,"lo":-27},{"r":"Block","c":26,"k":"s","t":9.05,"hi":26,"lo":-26},{"r":"Block","c":26,"k":"s","t":9.35,"hi":27,"lo":-28},{"r":"Block","c":26,"k":"s","t":9.44,"hi":25,"lo":-27},{"r":"Block","c":26,"k":"s","t":9.55,"hi":26,"lo":-26},
{"r":"Block","c":26,"k":"s","t":9.64,"hi":26,"lo":-27},{"r":"Block","c":26,"k":"s","t":9.75,"hi":25,"lo":-28},{"r":"Block","c":26,"k":"s","t":9.84,"hi":27,"lo":-26},{"r":"Block","c":26,"k":"s","t":9.93,"hi":26,"lo":-27},
{"r":"Block","c":60,"k":"s","t":0.09,"hi":28,"lo":-28},{"r":"Block","c":60,"k":"s","t":0.2,"hi":27,"lo":-29},{"r":"Block","c":60,"k":"s","t":0.31,"hi":29,"lo":-27},{"r":"Block","c":60,"k":"s","t":0.41,"hi":28,"lo":-30},{"r":"Block","c":60,"k":"s","t":0.52,"hi":27,"lo":-28},{"r":"Block","c":60,"k":"s","t":0.63,"hi":30,"lo":-29},{"r":"Block","c":60,"k":"s","t":0.73,"hi":28,"lo":-27},{"r":"Block","c":60,"k":"s","t":0.84,"hi":29,"lo":-28},{"r":"Block","c":60,"k":"s","t":0.96,"hi":27,"lo":-30},{"r":"Block","c":60,"k":"s","t":1.07,"hi":28,"lo":-29},
{"r":"Block","c":60,"k":"s","t":1.29,"hi":28,"lo":-28},{"r":"Block","c":60,"k":"s","t":1.4,"hi":27,"lo":-29},{"r":"Block","c":60,"k":"s","t":1.51,"hi":29,"lo":-27},{"r":"Block","c":60,"k":"s","t":1.61,"hi":28,"lo":-30},{"r":"Block","c":60,"k":"s","t":1.72,"hi":27,"lo":-28},{"r":"Block","c":60,"k":"s","t":1.83,"hi":30,"lo":-29},{"r":"Block","c":60,"k":"s","t":1.93,"hi":28,"lo":-27},{"r":"Block","c":60,"k":"s","t":2.07,"hi":29,"lo":-28},{"r":"Block","c":60,"k":"s","t":2.15,"hi":27,"lo":-30},{"r":"Block","c":60,"k":"s","t":2.25,"hi":28,"lo":-29},
{"r":"Block","c":60,"k":"s","t":2.36,"hi":28,"lo":-28},{"r":"Block","c":60,"k":"s","t":2.47,"hi":27,"lo":-29},{"r":"Block","c":60,"k":"s","t":2.76,"hi":29,"lo":-27},{"r":"Block","c":60,"k":"s","t":2.87,"hi":28,"lo":-30},{"r":"Block","c":60,"k":"s","t":2.97,"hi":27,"lo":-28},{"r":"Block","c":60,"k":"s","t":3.08,"hi":30,"lo":-29},{"r":"Block","c":60,"k":"s","t":3.19,"hi":28,"lo":-27},{"r":"Block","c":60,"k":"s","t":3.29,"hi":29,"lo":-28},{"r":"Block","c":60,"k":"s","t":3.4,"hi":27,"lo":-30},{"r":"Block","c":60,"k":"s","t":3.53,"hi":28,"lo":-29},
{"r":"Block","c":60,"k":"s","t":3.83,"hi":31,"lo":-28},{"r":"Block","c":60,"k":"s","t":4.01,"hi":27,"lo":-29},{"r":"Block","c":60,"k":"s","t":4.12,"hi":29,"lo":-27},{"r":"Block","c":60,"k":"s","t":4.23,"hi":28,"lo":-30},{"r":"Block","c":60,"k":"s","t":4.33,"hi":27,"lo":-28},{"r":"Block","c":60,"k":"s","t":4.47,"hi":30,"lo":-29},{"r":"Block","c":60,"k":"s","t":4.68,"hi":28,"lo":-27},{"r":"Block","c":60,"k":"s","t":4.79,"hi":29,"lo":-28},{"r":"Block","c":60,"k":"s","t":4.89,"hi":27,"lo":-30},{"r":"Block","c":60,"k":"s","t":5.0,"hi":28,"lo":-29},
{"r":"Block","c":60,"k":"s","t":5.16,"hi":28,"lo":-28},{"r":"Block","c":60,"k":"s","t":5.27,"hi":27,"lo":-29},{"r":"Block","c":60,"k":"s","t":5.37,"hi":29,"lo":-27},{"r":"Block","c":60,"k":"s","t":5.51,"hi":28,"lo":-30},{"r":"Block","c":60,"k":"s","t":5.61,"hi":27,"lo":-28},{"r":"Block","c":60,"k":"s","t":5.91,"hi":30,"lo":-29},{"r":"Block","c":60,"k":"s","t":6.01,"hi":28,"lo":-27},{"r":"Block","c":60,"k":"s","t":6.2,"hi":29,"lo":-28},{"r":"Block","c":60,"k":"s","t":6.33,"hi":27,"lo":-30},{"r":"Block","c":60,"k":"s","t":6.47,"hi":28,"lo":-29},
{"r":"Block","c":60,"k":"s","t":6.57,"hi":28,"lo":-28},{"r":"Block","c":60,"k":"s","t":6.76,"hi":27,"lo":-29},{"r":"Block","c":60,"k":"s","t":6.87,"hi":29,"lo":-27},{"r":"Block","c":60,"k":"s","t":7.03,"hi":28,"lo":-30},{"r":"Block","c":60,"k":"s","t":7.13,"hi":27,"lo":-28},{"r":"Block","c":60,"k":"s","t":7.24,"hi":30,"lo":-29},{"r":"Block","c":60,"k":"s","t":7.35,"hi":28,"lo":-27},{"r":"Block","c":60,"k":"s","t":7.45,"hi":29,"lo":-28},{"r":"Block","c":60,"k":"s","t":7.56,"hi":27,"lo":-30},{"r":"Block","c":60,"k":"s","t":7.67,"hi":28,"lo":-29},
{"r":"Block","c":60,"k":"s","t":7.77,"hi":28,"lo":-28},{"r":"Block","c":60,"k":"s","t":7.88,"hi":27,"lo":-29},{"r":"Block","c":60,"k":"s","t":7.99,"hi":29,"lo":-27},{"r":"Block","c":60,"k":"s","t":8.09,"hi":28,"lo":-30},{"r":"Block","c":60,"k":"s","t":8.2,"hi":27,"lo":-28},{"r":"Block","c":60,"k":"s","t":8.39,"hi":30,"lo":-29},{"r":"Block","c":60,"k":"s","t":8.49,"hi":28,"lo":-27},{"r":"Block","c":60,"k":"s","t":8.6,"hi":29,"lo":-28},{"r":"Block","c":60,"k":"s","t":8.71,"hi":27,"lo":-30},{"r":"Block","c":60,"k":"s","t":8.81,"hi":28,"lo":-29},
{"r":"Block","c":60,"k":"s","t":8.92,"hi":28,"lo":-28},{"r":"Block","c":60,"k":"s","t":9.03,"hi":27,"lo":-29},{"r":"Block","c":60,"k":"s","t":9.13,"hi":29,"lo":-27},{"r":"Block","c":60,"k":"s","t":9.29,"hi":28,"lo":-30},{"r":"Block","c":60,"k":"s","t":9.43,"hi":27,"lo":-28},{"r":"Block","c":60,"k":"s","t":9.53,"hi":30,"lo":-29},{"r":"Block","c":60,"k":"s","t":9.64,"hi":28,"lo":-27},{"r":"Block","c":60,"k":"s","t":9.75,"hi":29,"lo":-28},{"r":"Block","c":60,"k":"s","t":9.85,"hi":27,"lo":-30},{"r":"Block","c":60,"k":"s","t":9.96,"hi":28,"lo":-29},
{"r":"Block","c":100,"k":"s","t":0.17,"hi":27,"lo":-30},{"r":"Block","c":100,"k":"s","t":0.28,"hi":26,"lo":-31},{"r":"Block","c":100,"k":"s","t":0.39,"hi":28,"lo":-29},{"r":"Block","c":100,"k":"s","t":0.68,"hi":27,"lo":-30},{"r":"Block","c":100,"k":"s","t":0.88,"hi":29,"lo":-32},{"r":"Block","c":100,"k":"s","t":1.0,"hi":27,"lo":-30},{"r":"Block","c":100,"k":"s","t":1.11,"hi":26,"lo":-31},{"r":"Block","c":100,"k":"s","t":1.21,"hi":28,"lo":-29},{"r":"Block","c":100,"k":"s","t":1.29,"hi":27,"lo":-30},{"r":"Block","c":100,"k":"s","t":1.39,"hi":28,"lo":-31},
{"r":"Block","c":100,"k":"s","t":1.59,"hi":27,"lo":-30},{"r":"Block","c":100,"k":"s","t":1.69,"hi":26,"lo":-31},{"r":"Block","c":100,"k":"s","t":1.88,"hi":28,"lo":-29},{"r":"Block","c":100,"k":"s","t":2.01,"hi":27,"lo":-30},{"r":"Block","c":100,"k":"s","t":2.15,"hi":29,"lo":-32},{"r":"Block","c":100,"k":"s","t":2.39,"hi":27,"lo":-30},{"r":"Block","c":100,"k":"s","t":2.87,"hi":26,"lo":-31},{"r":"Block","c":100,"k":"s","t":2.97,"hi":28,"lo":-29},{"r":"Block","c":100,"k":"s","t":3.19,"hi":27,"lo":-30},{"r":"Block","c":100,"k":"s","t":3.64,"hi":28,"lo":-31},
{"r":"Block","c":100,"k":"s","t":3.75,"hi":23,"lo":-25},{"r":"Block","c":100,"k":"s","t":3.88,"hi":26,"lo":-31},{"r":"Block","c":100,"k":"s","t":4.23,"hi":28,"lo":-29},{"r":"Block","c":100,"k":"s","t":4.6,"hi":27,"lo":-30},{"r":"Block","c":100,"k":"s","t":4.97,"hi":29,"lo":-32},{"r":"Block","c":100,"k":"s","t":5.16,"hi":27,"lo":-30},{"r":"Block","c":100,"k":"s","t":5.27,"hi":26,"lo":-31},{"r":"Block","c":100,"k":"s","t":5.37,"hi":28,"lo":-29},{"r":"Block","c":100,"k":"s","t":5.48,"hi":27,"lo":-30},{"r":"Block","c":100,"k":"s","t":5.59,"hi":28,"lo":-31},
{"r":"Block","c":100,"k":"s","t":5.72,"hi":27,"lo":-30},{"r":"Block","c":100,"k":"s","t":5.93,"hi":26,"lo":-31},{"r":"Block","c":100,"k":"s","t":6.04,"hi":28,"lo":-29},{"r":"Block","c":100,"k":"s","t":6.15,"hi":27,"lo":-30},{"r":"Block","c":100,"k":"s","t":6.28,"hi":29,"lo":-32},{"r":"Block","c":100,"k":"s","t":6.39,"hi":27,"lo":-30},{"r":"Block","c":100,"k":"s","t":6.49,"hi":26,"lo":-31},{"r":"Block","c":100,"k":"s","t":6.81,"hi":28,"lo":-29},{"r":"Block","c":100,"k":"s","t":7.08,"hi":27,"lo":-30},{"r":"Block","c":100,"k":"s","t":7.19,"hi":28,"lo":-31},
{"r":"Block","c":100,"k":"s","t":7.29,"hi":27,"lo":-30},{"r":"Block","c":100,"k":"s","t":7.59,"hi":26,"lo":-31},{"r":"Block","c":100,"k":"s","t":7.75,"hi":28,"lo":-29},{"r":"Block","c":100,"k":"s","t":7.93,"hi":27,"lo":-30},{"r":"Block","c":100,"k":"s","t":8.11,"hi":29,"lo":-32},{"r":"Block","c":100,"k":"s","t":8.25,"hi":27,"lo":-30},{"r":"Block","c":100,"k":"s","t":8.41,"hi":26,"lo":-31},{"r":"Block","c":100,"k":"s","t":8.55,"hi":28,"lo":-29},{"r":"Block","c":100,"k":"s","t":8.68,"hi":27,"lo":-30},{"r":"Block","c":100,"k":"s","t":8.79,"hi":28,"lo":-31},
{"r":"Block","c":100,"k":"s","t":9.05,"hi":27,"lo":-30},{"r":"Block","c":100,"k":"s","t":9.19,"hi":26,"lo":-31},{"r":"Block","c":100,"k":"s","t":9.29,"hi":28,"lo":-29},{"r":"Block","c":100,"k":"s","t":9.4,"hi":27,"lo":-30},{"r":"Block","c":100,"k":"s","t":9.51,"hi":29,"lo":-32},{"r":"Block","c":100,"k":"s","t":9.61,"hi":27,"lo":-30},{"r":"Block","c":100,"k":"s","t":9.75,"hi":26,"lo":-31},
{"r":"Block","c":26,"k":"e","t":0,"v":-0.1},{"r":"Block","c":26,"k":"e","t":0.25,"v":0.4},{"r":"Block","c":26,"k":"e","t":0.5,"v":-0.3},{"r":"Block","c":26,"k":"e","t":0.75,"v":0.2},{"r":"Block","c":26,"k":"e","t":1,"v":0.5},{"r":"Block","c":26,"k":"e","t":1.25,"v":-0.4},{"r":"Block","c":26,"k":"e","t":1.5,"v":0.1},{"r":"Block","c":26,"k":"e","t":1.75,"v":-0.2},{"r":"Block","c":26,"k":"e","t":2,"v":0.4},{"r":"Block","c":26,"k":"e","t":2.25,"v":-0.5},{"r":"Block","c":26,"k":"e","t":2.5,"v":0.3},{"r":"Block","c":26,"k":"e","t":2.75,"v":0.2},{"r":"Block","c":26,"k":"e","t":3,"v":-0.3},{"r":"Block","c":26,"k":"e","t":3.25,"v":0.5},{"r":"Block","c":26,"k":"e","t":3.5,"v":-0.1},{"r":"Block","c":26,"k":"e","t":3.75,"v":0.2},{"r":"Block","c":26,"k":"e","t":4,"v":-0.4},{"r":"Block","c":26,"k":"e","t":4.25,"v":0.4},{"r":"Block","c":26,"k":"e","t":4.5,"v":0},{"r":"Block","c":26,"k":"e","t":4.75,"v":-0.3},{"r":"Block","c":26,"k":"e","t":5,"v":0.3},{"r":"Block","c":26,"k":"e","t":5.25,"v":-0.5},{"r":"Block","c":26,"k":"e","t":5.5,"v":0.4},{"r":"Block","c":26,"k":"e","t":5.75,"v":0.1},{"r":"Block","c":26,"k":"e","t":6,"v":-0.2},{"r":"Block","c":26,"k":"e","t":6.25,"v":0.5},{"r":"Block","c":26,"k":"e","t":6.5,"v":-0.3},{"r":"Block","c":26,"k":"e","t":6.75,"v":0.2},{"r":"Block","c":26,"k":"e","t":7,"v":-0.4},{"r":"Block","c":26,"k":"e","t":7.25,"v":0.3},{"r":"Block","c":26,"k":"e","t":7.5,"v":0.1},{"r":"Block","c":26,"k":"e","t":7.75,"v":-0.2},{"r":"Block","c":26,"k":"e","t":8,"v":0.5},{"r":"Block","c":26,"k":"e","t":8.25,"v":-0.4},{"r":"Block","c":26,"k":"e","t":8.5,"v":0.3},{"r":"Block","c":26,"k":"e","t":8.75,"v":-0.1},{"r":"Block","c":26,"k":"e","t":9,"v":0.2},{"r":"Block","c":26,"k":"e","t":9.25,"v":-0.5},{"r":"Block","c":26,"k":"e","t":9.5,"v":0.4},{"r":"Block","c":26,"k":"e","t":9.75,"v":0},{"r":"Block","c":26,"k":"e","t":10,"v":-0.3},
{"r":"Block","c":60,"k":"e","t":0,"v":0.2},{"r":"Block","c":60,"k":"e","t":0.25,"v":-0.5},{"r":"Block","c":60,"k":"e","t":0.5,"v":0.3},{"r":"Block","c":60,"k":"e","t":0.75,"v":0.1},{"r":"Block","c":60,"k":"e","t":1,"v":-0.3},{"r":"Block","c":60,"k":"e","t":1.25,"v":0.4},{"r":"Block","c":60,"k":"e","t":1.5,"v":-0.2},{"r":"Block","c":60,"k":"e","t":1.75,"v":0.5},{"r":"Block","c":60,"k":"e","t":2,"v":-0.4},{"r":"Block","c":60,"k":"e","t":2.25,"v":0.2},{"r":"Block","c":60,"k":"e","t":2.5,"v":0.3},{"r":"Block","c":60,"k":"e","t":2.75,"v":-0.1},{"r":"Block","c":60,"k":"e","t":3,"v":-0.5},{"r":"Block","c":60,"k":"e","t":3.25,"v":0.4},{"r":"Block","c":60,"k":"e","t":3.5,"v":0.1},{"r":"Block","c":60,"k":"e","t":3.75,"v":-0.3},{"r":"Block","c":60,"k":"e","t":4,"v":0.5},{"r":"Block","c":60,"k":"e","t":4.25,"v":-0.2},{"r":"Block","c":60,"k":"e","t":4.5,"v":0.3},{"r":"Block","c":60,"k":"e","t":4.75,"v":-0.4},{"r":"Block","c":60,"k":"e","t":5,"v":0.2},{"r":"Block","c":60,"k":"e","t":5.25,"v":0.5},{"r":"Block","c":60,"k":"e","t":5.5,"v":-0.3},{"r":"Block","c":60,"k":"e","t":5.75,"v":0},{"r":"Block","c":60,"k":"e","t":6,"v":0.4},{"r":"Block","c":60,"k":"e","t":6.25,"v":-0.5},{"r":"Block","c":60,"k":"e","t":6.5,"v":0.3},{"r":"Block","c":60,"k":"e","t":6.75,"v":-0.1},{"r":"Block","c":60,"k":"e","t":7,"v":0.2},{"r":"Block","c":60,"k":"e","t":7.25,"v":0.5},{"r":"Block","c":60,"k":"e","t":7.5,"v":-0.3},{"r":"Block","c":60,"k":"e","t":7.75,"v":0.4},{"r":"Block","c":60,"k":"e","t":8,"v":-0.2},{"r":"Block","c":60,"k":"e","t":8.25,"v":0.1},{"r":"Block","c":60,"k":"e","t":8.5,"v":-0.4},{"r":"Block","c":60,"k":"e","t":8.75,"v":0.5},{"r":"Block","c":60,"k":"e","t":9,"v":0.2},{"r":"Block","c":60,"k":"e","t":9.25,"v":-0.3},{"r":"Block","c":60,"k":"e","t":9.5,"v":0.4},{"r":"Block","c":60,"k":"e","t":9.75,"v":-0.1},{"r":"Block","c":60,"k":"e","t":10,"v":0.3},
{"r":"Block","c":100,"k":"e","t":0,"v":0.2},{"r":"Block","c":100,"k":"e","t":0.25,"v":-0.4},{"r":"Block","c":100,"k":"e","t":0.5,"v":0.3},{"r":"Block","c":100,"k":"e","t":0.75,"v":-0.1},{"r":"Block","c":100,"k":"e","t":1,"v":0.5},{"r":"Block","c":100,"k":"e","t":1.25,"v":-0.3},{"r":"Block","c":100,"k":"e","t":1.5,"v":0.2},{"r":"Block","c":100,"k":"e","t":1.75,"v":0.4},{"r":"Block","c":100,"k":"e","t":2,"v":-0.5},{"r":"Block","c":100,"k":"e","t":2.25,"v":0.1},{"r":"Block","c":100,"k":"e","t":2.5,"v":0.3},{"r":"Block","c":100,"k":"e","t":2.75,"v":-0.2},{"r":"Block","c":100,"k":"e","t":3,"v":0.4},{"r":"Block","c":100,"k":"e","t":3.25,"v":-0.3},{"r":"Block","c":100,"k":"e","t":3.5,"v":0.1},{"r":"Block","c":100,"k":"e","t":3.75,"v":0.5},{"r":"Block","c":100,"k":"e","t":4,"v":-0.2},{"r":"Block","c":100,"k":"e","t":4.25,"v":0.3},{"r":"Block","c":100,"k":"e","t":4.4,"v":1},{"r":"Block","c":100,"k":"e","t":4.48,"v":2.5},{"r":"Block","c":100,"k":"e","t":4.53,"v":5},{"r":"Block","c":100,"k":"e","t":4.58,"v":7},{"r":"Block","c":100,"k":"e","t":4.63,"v":4},{"r":"Block","c":100,"k":"e","t":4.68,"v":3.7},{"r":"Block","c":100,"k":"e","t":4.75,"v":2.7},{"r":"Block","c":100,"k":"e","t":4.82,"v":3.8},{"r":"Block","c":100,"k":"e","t":4.9,"v":3.3},{"r":"Block","c":100,"k":"e","t":5,"v":2.5},{"r":"Block","c":100,"k":"e","t":5.1,"v":3},{"r":"Block","c":100,"k":"e","t":5.2,"v":2.3},{"r":"Block","c":100,"k":"e","t":5.35,"v":1.7},{"r":"Block","c":100,"k":"e","t":5.5,"v":1.2},{"r":"Block","c":100,"k":"e","t":5.65,"v":0.5},{"r":"Block","c":100,"k":"e","t":5.8,"v":0.9},{"r":"Block","c":100,"k":"e","t":6,"v":0.2},{"r":"Block","c":100,"k":"e","t":6.25,"v":0.5},{"r":"Block","c":100,"k":"e","t":6.5,"v":-0.2},{"r":"Block","c":100,"k":"e","t":6.75,"v":0.4},{"r":"Block","c":100,"k":"e","t":7,"v":0.1},{"r":"Block","c":100,"k":"e","t":7.25,"v":-0.3},{"r":"Block","c":100,"k":"e","t":7.5,"v":0.4},{"r":"Block","c":100,"k":"e","t":7.75,"v":0},{"r":"Block","c":100,"k":"e","t":8,"v":0.3},{"r":"Block","c":100,"k":"e","t":8.25,"v":-0.4},{"r":"Block","c":100,"k":"e","t":8.5,"v":0.2},{"r":"Block","c":100,"k":"e","t":8.75,"v":0.5},{"r":"Block","c":100,"k":"e","t":9,"v":-0.2},{"r":"Block","c":100,"k":"e","t":9.25,"v":0.3},{"r":"Block","c":100,"k":"e","t":9.5,"v":-0.3},{"r":"Block","c":100,"k":"e","t":9.75,"v":0.4},{"r":"Block","c":100,"k":"e","t":10,"v":0.1}
]
},
"vconcat": [
{"data": {"name": "on"},
 "facet": {
  "row": {"field": "r", "type": "nominal", "sort": ["Baseline", "Block"], "title": null, "header": null},
  "column": {"field": "c", "type": "ordinal", "sort": [26, 60, 100], "title": null,
   "header": {"labelExpr": "datum.value + ' g'", "labelFontSize": 19, "labelFontWeight": "bold", "labelColor": "black", "labelPadding": 18}}},
 "spacing": {"row": 4, "column": 55}, "bounds": "flush",
 "spec": {"width": 250, "height": 92, "resolve": {"scale": {"y": "independent"}},
  "layer": [
   {"layer": [
    {"transform": [{"filter": "datum.k === 'h'"}], "mark": {"type": "rect", "color": "#f2f2f2"},
     "encoding": {"x": {"datum": 0, "type": "quantitative", "scale": {"domain": [0, 10], "nice": false, "zero": false}}, "x2": {"datum": 10},
      "y": {"datum": 34, "type": "quantitative", "scale": {"domain": [-56, 36], "nice": false, "zero": false}}, "y2": {"datum": -32}}},
    {"transform": [{"filter": "datum.k === 's'"}], "mark": {"type": "rule", "color": "#555555", "strokeWidth": 1},
     "encoding": {"x": {"field": "t", "type": "quantitative"}, "y": {"field": "hi", "type": "quantitative"}, "y2": {"field": "lo"}}},
    {"transform": [{"filter": "datum.k === 'h'"}], "mark": {"type": "rule", "color": "black", "strokeWidth": 2},
     "encoding": {"x": {"datum": 0}, "x2": {"datum": 10}, "y": {"datum": 0}}},
    {"transform": [{"filter": "datum.k === 'h' && datum.c === 26"}], "mark": {"type": "text", "align": "right", "baseline": "middle", "fontSize": 20, "color": "black"},
     "encoding": {"x": {"datum": -0.16}, "y": {"datum": 0}, "text": {"field": "r"}}},
    {"transform": [{"filter": "datum.k === 'h' && datum.c === 26 && datum.r === 'Baseline'"}], "mark": {"type": "text", "align": "left", "baseline": "middle", "fontSize": 22, "fontWeight": "bold", "color": "black", "text": "ON-cell"},
     "encoding": {"x": {"datum": -7.32}, "y": {"datum": -44}}}
   ]},
   {"layer": [
    {"transform": [{"filter": "datum.k === 'e'"}], "mark": {"type": "line", "color": "#2a2a2a", "strokeWidth": 1.1},
     "encoding": {"x": {"field": "t", "type": "quantitative"}, "y": {"field": "v", "type": "quantitative", "scale": {"domain": [-19, 73], "nice": false, "zero": false}}}},
    {"transform": [{"filter": "datum.k === 'o'"}], "mark": {"type": "point", "shape": "triangle-up", "filled": true, "color": "black", "size": 90, "opacity": 1},
     "encoding": {"x": {"field": "t", "type": "quantitative"}, "y": {"datum": -6.75}}},
    {"transform": [{"filter": "datum.k === 'b'"}], "mark": {"type": "rule", "color": "black", "strokeWidth": 3},
     "encoding": {"x": {"field": "t", "type": "quantitative"}, "x2": {"field": "t2"}, "y": {"datum": -14.5}}}
   ]}
  ]}
},
{"data": {"name": "off"},
 "facet": {
  "row": {"field": "r", "type": "nominal", "sort": ["Baseline", "Block"], "title": null, "header": null},
  "column": {"field": "c", "type": "ordinal", "sort": [26, 60, 100], "title": null, "header": null}},
 "spacing": {"row": 4, "column": 55}, "bounds": "flush",
 "spec": {"width": 250, "height": 92, "resolve": {"scale": {"y": "independent"}},
  "layer": [
   {"layer": [
    {"transform": [{"filter": "datum.k === 's'"}], "mark": {"type": "rule", "color": "#808080", "strokeWidth": 1},
     "encoding": {"x": {"field": "t", "type": "quantitative", "scale": {"domain": [0, 10], "nice": false, "zero": false}}, "y": {"field": "hi", "type": "quantitative", "scale": {"domain": [-56, 36], "nice": false, "zero": false}}, "y2": {"field": "lo"}}},
    {"transform": [{"filter": "datum.k === 'h'"}], "mark": {"type": "rule", "color": "black", "strokeWidth": 2},
     "encoding": {"x": {"datum": 0}, "x2": {"datum": 10}, "y": {"datum": 0}}},
    {"transform": [{"filter": "datum.k === 'h' && datum.c === 26"}], "mark": {"type": "text", "align": "right", "baseline": "middle", "fontSize": 20, "color": "black"},
     "encoding": {"x": {"datum": -0.16}, "y": {"datum": 0}, "text": {"field": "r"}}},
    {"transform": [{"filter": "datum.k === 'h' && datum.c === 26 && datum.r === 'Baseline'"}], "mark": {"type": "text", "align": "left", "baseline": "middle", "fontSize": 22, "fontWeight": "bold", "color": "black", "text": "OFF-cell"},
     "encoding": {"x": {"datum": -7.32}, "y": {"datum": -41}}}
   ]},
   {"layer": [
    {"transform": [{"filter": "datum.k === 'e'"}], "mark": {"type": "line", "color": "#2a2a2a", "strokeWidth": 1.1},
     "encoding": {"x": {"field": "t", "type": "quantitative"}, "y": {"field": "v", "type": "quantitative", "scale": {"domain": [-17.5, 74.5], "nice": false, "zero": false}}}},
    {"transform": [{"filter": "datum.k === 'o'"}], "mark": {"type": "point", "filled": true, "color": "black", "size": 90, "opacity": 1},
     "encoding": {"x": {"field": "t", "type": "quantitative"}, "y": {"datum": -7.9},
      "shape": {"datum": "Withdrawal onset", "type": "nominal", "scale": {"range": ["triangle-up"]},
       "legend": {"orient": "none", "legendX": 619, "legendY": 473, "title": null, "padding": 0,
        "labelFontSize": 21, "labelColor": "black", "labelLimit": 400, "labelOffset": 0,
        "symbolSize": 130, "symbolFillColor": "black", "symbolStrokeWidth": 0, "symbolOpacity": 1}}}},
    {"transform": [{"filter": "datum.k === 'b'"}], "mark": {"type": "rule", "strokeWidth": 3},
     "encoding": {"x": {"field": "t", "type": "quantitative"}, "x2": {"field": "t2"}, "y": {"datum": -14.5},
      "color": {"datum": "von Frey stimulation", "type": "nominal", "scale": {"range": ["black"]},
       "legend": {"orient": "none", "legendX": 607, "legendY": 490, "title": null, "padding": 0,
        "labelFontSize": 21, "labelColor": "black", "labelLimit": 400, "labelOffset": 1,
        "symbolType": "stroke", "symbolSize": 1156, "symbolStrokeWidth": 3, "symbolStrokeColor": "black", "symbolOpacity": 1}}}}
   ]}
  ]}
}
],
"spacing": 63
}
